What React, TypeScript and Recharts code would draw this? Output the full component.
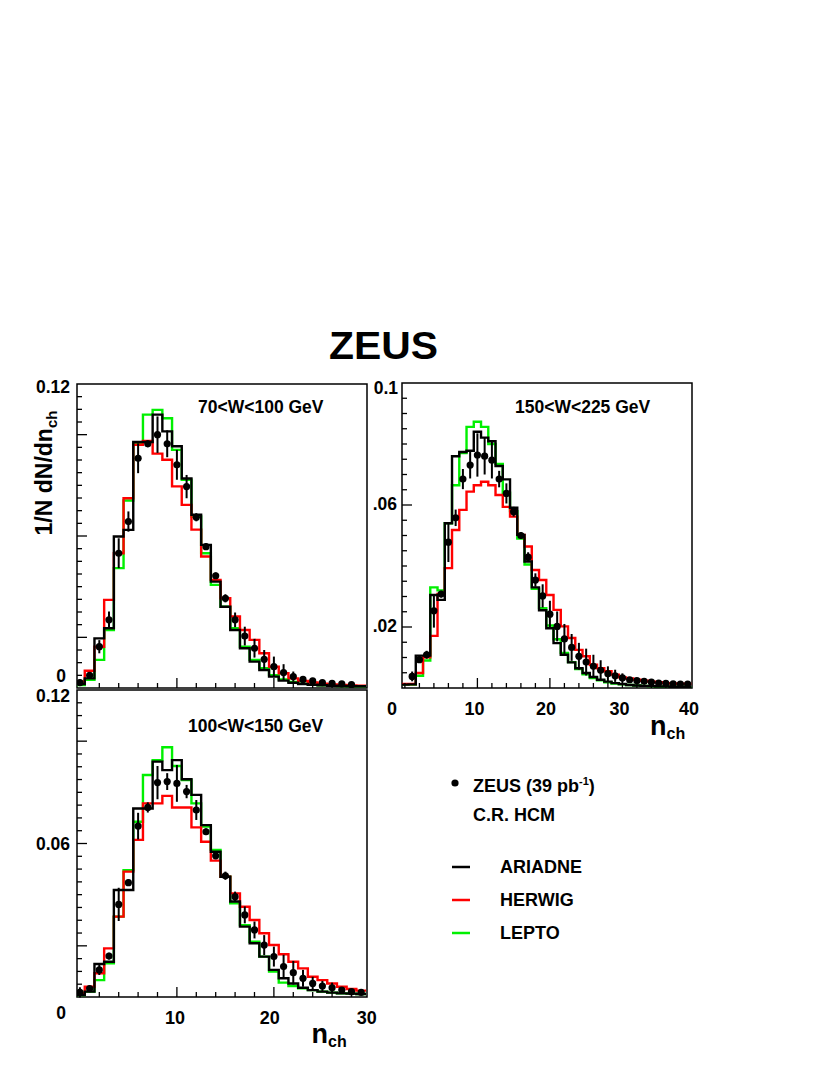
import React from "react";
import { ComposedChart, Line, Scatter, ErrorBar, XAxis, YAxis, ReferenceArea } from "recharts";

const FONT = "'Liberation Sans', Arial, Helvetica, sans-serif";

// charged multiplicity bins
const nch30 = [0, 1, 2, 3, 4, 5, 6, 7, 8, 9, 10, 11, 12, 13, 14, 15, 16, 17, 18, 19, 20, 21, 22, 23, 24, 25, 26, 27, 28, 29];
const nch40 = [0, 1, 2, 3, 4, 5, 6, 7, 8, 9, 10, 11, 12, 13, 14, 15, 16, 17, 18, 19, 20, 21, 22, 23, 24, 25, 26, 27, 28, 29, 30, 31, 32, 33, 34, 35, 36, 37, 38, 39];

// 70 < W < 100 GeV  (data: n = 0..28)
const zeus70 = [0.0021, 0.005, 0.0163, 0.0269, 0.0532, 0.0657, 0.0907, 0.0964, 0.1, 0.0964, 0.0881, 0.0795, 0.0674, 0.0558, 0.0443, 0.0354, 0.0269, 0.0205, 0.0157, 0.0113, 0.0084, 0.0061, 0.0045, 0.0034, 0.0028, 0.0021, 0.0018, 0.0016, 0.0013];
const zeus70Err = [0.0013, 0.0007, 0.0026, 0.0033, 0.0059, 0.004, 0.0059, 0.0013, 0.0072, 0.0053, 0.0059, 0.0046, 0.0016, 0.0013, 0.0013, 0.0016, 0.0029, 0.0037, 0.0037, 0.0037, 0.004, 0.0033, 0.002, 0.0013, 0.0008, 0.0008, 0.0008, 0.0008, 0.0008];
const ariadne70 = [0.0016, 0.0038, 0.0196, 0.0236, 0.0598, 0.0624, 0.0971, 0.0971, 0.1079, 0.1013, 0.0954, 0.0827, 0.0684, 0.0565, 0.042, 0.0321, 0.0229, 0.0157, 0.0104, 0.0071, 0.0045, 0.0029, 0.0021, 0.0016, 0.0013, 0.0011, 0.0009, 0.0008, 0.0007, 0.0007];
const herwig70 = [0.0025, 0.0068, 0.0163, 0.0348, 0.0532, 0.0749, 0.096, 0.0975, 0.0925, 0.0901, 0.0796, 0.0723, 0.0625, 0.0519, 0.0427, 0.0354, 0.0282, 0.0229, 0.019, 0.0137, 0.0084, 0.0058, 0.0038, 0.0028, 0.0022, 0.0017, 0.0014, 0.0012, 0.001, 0.0009];
const lepto70 = [0.0012, 0.0032, 0.0111, 0.0229, 0.0473, 0.074, 0.0967, 0.1079, 0.1098, 0.1065, 0.094, 0.0822, 0.0677, 0.0532, 0.0407, 0.0321, 0.0236, 0.0163, 0.0111, 0.0078, 0.0051, 0.0034, 0.0024, 0.0017, 0.0013, 0.0011, 0.0009, 0.0008, 0.0007, 0.0007];

// 150 < W < 225 GeV  (data: n = 1..39)
const zeus150 = [0.0038, 0.0093, 0.0109, 0.0253, 0.0308, 0.0478, 0.0558, 0.0685, 0.0731, 0.0764, 0.076, 0.0747, 0.0685, 0.0638, 0.0578, 0.05, 0.0429, 0.0354, 0.0302, 0.0242, 0.0202, 0.0161, 0.0133, 0.0104, 0.0085, 0.0071, 0.0058, 0.0047, 0.004, 0.0033, 0.0027, 0.0024, 0.0022, 0.0019, 0.0016, 0.0015, 0.0014, 0.0013, 0.0013];
const zeus150Err = [0.0016, 0.0011, 0.0013, 0.0055, 0.0011, 0.0065, 0.0027, 0.0033, 0.0044, 0.0071, 0.006, 0.006, 0.0027, 0.0033, 0.0016, 0.0011, 0.0016, 0.0022, 0.0038, 0.0044, 0.0049, 0.0049, 0.0044, 0.0044, 0.0044, 0.0038, 0.0033, 0.0024, 0.002, 0.0015, 0.0009, 0.0009, 0.0009, 0.0009, 0.0009, 0.0009, 0.0009, 0.0009, 0.0009];
const ariadne150 = [0.0011, 0.0012, 0.0106, 0.0106, 0.0305, 0.0289, 0.054, 0.076, 0.0774, 0.0778, 0.084, 0.0821, 0.0809, 0.0728, 0.0684, 0.0591, 0.0502, 0.0415, 0.033, 0.0255, 0.0196, 0.0147, 0.0109, 0.0084, 0.0065, 0.0049, 0.0036, 0.0027, 0.0021, 0.0016, 0.0013, 0.001, 0.0008, 0.0007, 0.0006, 0.0005, 0.0005, 0.0004, 0.0004, 0.0003];
const herwig150 = [0.0013, 0.0013, 0.0049, 0.0101, 0.0171, 0.0308, 0.0393, 0.0518, 0.0584, 0.0644, 0.0665, 0.0676, 0.0665, 0.0633, 0.0594, 0.0562, 0.0502, 0.0464, 0.0387, 0.0354, 0.0305, 0.0256, 0.0202, 0.0164, 0.0125, 0.0104, 0.0076, 0.0065, 0.0055, 0.0044, 0.0035, 0.0031, 0.0027, 0.0024, 0.0021, 0.0019, 0.0016, 0.0015, 0.0014, 0.0014];
const lepto150 = [0.0011, 0.0011, 0.004, 0.009, 0.033, 0.032, 0.054, 0.0665, 0.077, 0.0856, 0.0873, 0.0856, 0.08, 0.0735, 0.064, 0.058, 0.049, 0.0405, 0.0325, 0.0262, 0.0205, 0.016, 0.0115, 0.0085, 0.0062, 0.0045, 0.0033, 0.0025, 0.0019, 0.0015, 0.0012, 0.001, 0.0008, 0.0007, 0.0006, 0.0005, 0.0005, 0.0004, 0.0004, 0.0003];

// 100 < W < 150 GeV  (data: n = 0..29)
const zeus100 = [0.0018, 0.0033, 0.0106, 0.016, 0.0362, 0.0447, 0.0668, 0.0741, 0.0838, 0.0842, 0.0835, 0.0803, 0.0731, 0.0646, 0.0552, 0.0474, 0.0392, 0.0321, 0.0262, 0.0203, 0.0158, 0.0119, 0.0095, 0.0073, 0.0053, 0.0043, 0.0036, 0.0027, 0.0021, 0.0018];
const zeus100Err = [0.002, 0.0007, 0.002, 0.0013, 0.0065, 0.0013, 0.0052, 0.002, 0.0065, 0.0033, 0.0072, 0.0026, 0.0039, 0.0013, 0.0013, 0.0016, 0.002, 0.0033, 0.0033, 0.0039, 0.0039, 0.0046, 0.0046, 0.0033, 0.0026, 0.002, 0.002, 0.001, 0.0008, 0.0008];
const ariadne100 = [0.0008, 0.0021, 0.0129, 0.0138, 0.0418, 0.0418, 0.0737, 0.0737, 0.092, 0.0887, 0.0926, 0.0851, 0.079, 0.0672, 0.0568, 0.047, 0.0373, 0.0275, 0.021, 0.0158, 0.0106, 0.0073, 0.0053, 0.0036, 0.0027, 0.0021, 0.0017, 0.0014, 0.0013, 0.0012];
const herwig100 = [0.0014, 0.004, 0.0093, 0.019, 0.0314, 0.049, 0.0614, 0.0757, 0.0757, 0.0786, 0.0741, 0.0741, 0.0663, 0.0607, 0.0533, 0.047, 0.0405, 0.0353, 0.0301, 0.0249, 0.0203, 0.0167, 0.0138, 0.0112, 0.0079, 0.0066, 0.0053, 0.004, 0.0031, 0.0025];
const lepto100 = [0.0008, 0.0021, 0.0066, 0.0132, 0.0314, 0.0496, 0.0685, 0.0868, 0.0926, 0.0976, 0.0903, 0.0848, 0.0757, 0.0666, 0.0575, 0.047, 0.0366, 0.0281, 0.0216, 0.0158, 0.0099, 0.0056, 0.0043, 0.0034, 0.0027, 0.0021, 0.0017, 0.0014, 0.0013, 0.0012];

type Lab = { v: number; text: string; dx?: number; dy?: number };

// histogram outline: one row per lower bin edge plus the closing edge
function histRows(bins: number[], a: number[], h: number[], l: number[]) {
  const rows = bins.map((n, i) => ({ x: n - 0.5, ariadne: a[i], herwig: h[i], lepto: l[i] }));
  const last = bins.length - 1;
  rows.push({ x: bins[last] + 0.5, ariadne: a[last], herwig: h[last], lepto: l[last] });
  return rows;
}

function points(bins: number[], v: number[], e: number[]) {
  return v.map((y, i) => ({ x: bins[i], y, e: e[i] }));
}

function steps(from: number, to: number, step: number) {
  const out: number[] = [];
  for (let k = Math.round(from / step); k * step <= to + 1e-9; k++) out.push(+(k * step).toFixed(4));
  return out;
}

const near = (a: number, b: number) => Math.abs(a - b) < 1e-6;

function Panel(p: {
  fx: number; fy: number; fw: number; fh: number;
  xDomain: [number, number]; yMax: number;
  xMinor: number[]; xMajor: number[]; xLabels: Lab[];
  yMinor: number[]; yMajor: number[]; yLabels: Lab[];
  rows: any[]; pts: any[];
}) {
  const xTicks = Array.from(new Set([...p.xMinor, ...p.xLabels.map((l) => l.v)])).sort((a, b) => a - b);
  const yTicks = Array.from(new Set([...p.yMinor, ...p.yLabels.map((l) => l.v)])).sort((a, b) => a - b);

  const xTick = (t: any) => {
    const v = t.payload.value;
    const major = p.xMajor.some((m) => near(m, v));
    const minor = p.xMinor.some((m) => near(m, v));
    const lab = p.xLabels.find((l) => near(l.v, v));
    return (
      <g>
        {minor && <line x1={t.x} x2={t.x} y1={t.y} y2={t.y - (major ? 10 : 5)} stroke="#000" strokeWidth={1.3} />}
        {lab && (
          <text x={t.x + (lab.dx || 0)} y={t.y + 27 + (lab.dy || 0)} textAnchor="middle" fontFamily={FONT} fontWeight="bold" fontSize={18} fill="#000">
            {lab.text}
          </text>
        )}
      </g>
    );
  };

  const yTick = (t: any) => {
    const v = t.payload.value;
    const major = p.yMajor.some((m) => near(m, v));
    const minor = p.yMinor.some((m) => near(m, v));
    const lab = p.yLabels.find((l) => near(l.v, v));
    return (
      <g>
        {minor && <line x1={t.x} x2={t.x + (major ? 10 : 5)} y1={t.y} y2={t.y} stroke="#000" strokeWidth={1.3} />}
        {lab && (
          <text x={t.x - 7 + (lab.dx || 0)} y={t.y + 6.5 + (lab.dy || 0)} textAnchor="end" fontFamily={FONT} fontWeight="bold" fontSize={17.5} fill="#000">
            {lab.text}
          </text>
        )}
      </g>
    );
  };

  return (
    <div style={{ position: "absolute", left: p.fx - 70, top: p.fy - 10 }}>
      <ComposedChart width={p.fw + 80} height={p.fh + 70} data={p.rows} margin={{ top: 10, right: 10, bottom: 0, left: 0 }}>
        <XAxis dataKey="x" type="number" domain={p.xDomain} allowDataOverflow ticks={xTicks} interval={0} tick={xTick} tickLine={false} axisLine={false} tickSize={0} tickMargin={0} height={60} />
        <YAxis type="number" domain={[0, p.yMax]} allowDataOverflow ticks={yTicks} interval={0} tick={yTick} tickLine={false} axisLine={false} tickSize={0} tickMargin={0} width={70} />
        <ReferenceArea x1={p.xDomain[0]} x2={p.xDomain[1]} y1={0} y2={p.yMax} fill="none" stroke="#000" strokeWidth={1.5} ifOverflow="visible" />
        <Line dataKey="lepto" type="stepAfter" stroke="#00f000" strokeWidth={2.4} dot={false} isAnimationActive={false} />
        <Line dataKey="herwig" type="stepAfter" stroke="#ff0000" strokeWidth={2.4} dot={false} isAnimationActive={false} />
        <Line dataKey="ariadne" type="stepAfter" stroke="#000000" strokeWidth={2.4} dot={false} isAnimationActive={false} />
        <Scatter data={p.pts} dataKey="y" isAnimationActive={false} shape={(s: any) => <circle cx={s.cx} cy={s.cy} r={3.6} fill="#000" />}>
          <ErrorBar dataKey="e" direction="y" width={0} stroke="#000" strokeWidth={2} />
        </Scatter>
      </ComposedChart>
    </div>
  );
}

const yMinor12 = steps(0.005, 0.115, 0.005);
const yMinor10 = steps(0.005, 0.095, 0.005);
const yMajor = [0.02, 0.06, 0.1];
const xMinor30 = steps(2, 28, 2);
const xMinor40 = steps(0, 38, 2);
const xMajor = [10, 20, 30];

export default function App() {
  const bold = { fontFamily: FONT, fontWeight: "bold" as const, fill: "#000" };
  return (
    <div style={{ position: "absolute", left: 0, top: 0, width: 830, height: 1075, background: "#fff" }}>
      <Panel
        fx={77} fy={384} fw={290} fh={304}
        xDomain={[-0.3, 29.6]} yMax={0.12}
        xMinor={xMinor30} xMajor={xMajor} xLabels={[]}
        yMinor={yMinor12} yMajor={yMajor}
        yLabels={[{ v: 0.12, text: "0.12", dy: 2 }, { v: 0, text: "0", dx: -4, dy: -13 }]}
        rows={histRows(nch30, ariadne70, herwig70, lepto70)}
        pts={points(nch30, zeus70, zeus70Err)}
      />
      <Panel
        fx={77} fy={690} fw={290} fh={307}
        xDomain={[-0.3, 29.6]} yMax={0.12}
        xMinor={xMinor30} xMajor={xMajor}
        xLabels={[{ v: 10, text: "10", dx: -2 }, { v: 20, text: "20", dx: -4 }, { v: 30, text: "30", dx: -4 }]}
        yMinor={yMinor12} yMajor={yMajor}
        yLabels={[{ v: 0.12, text: "0.12", dy: 5 }, { v: 0.06, text: "0.06", dy: -0.5 }, { v: 0, text: "0", dx: -4, dy: 15.5 }]}
        rows={histRows(nch30, ariadne100, herwig100, lepto100)}
        pts={points(nch30, zeus100, zeus100Err)}
      />
      <Panel
        fx={402} fy={383} fw={290} fh={305}
        xDomain={[-0.4, 39.6]} yMax={0.1}
        xMinor={xMinor40} xMajor={xMajor}
        xLabels={[{ v: 0, text: "0", dx: -13 }, { v: 10, text: "10", dx: -3 }, { v: 20, text: "20", dx: -4 }, { v: 30, text: "30", dx: -3 }, { v: 40, text: "40", dx: -6 }]}
        yMinor={yMinor10} yMajor={yMajor}
        yLabels={[{ v: 0.1, text: "0.1", dx: 3, dy: 4 }, { v: 0.06, text: ".06", dx: 2, dy: -1.7 }, { v: 0.02, text: ".02", dx: 2, dy: -2 }]}
        rows={histRows(nch40, ariadne150, herwig150, lepto150)}
        pts={points(nch40.slice(1), zeus150, zeus150Err)}
      />

      <svg width={830} height={1075} style={{ position: "absolute", left: 0, top: 0, pointerEvents: "none" }}>
        <text x={383.5} y={359} textAnchor="middle" fontSize={38} textLength={109} lengthAdjust="spacingAndGlyphs" {...bold}>ZEUS</text>

        <text transform="translate(52,473) rotate(-90)" textAnchor="middle" fontSize={23} {...bold}>
          1/N dN/dn<tspan fontSize={15} dy={5}>ch</tspan>
        </text>

        <text x={198} y={413} fontSize={17.5} {...bold}>70&lt;W&lt;100 GeV</text>
        <text x={515} y={413} fontSize={17.5} {...bold}>150&lt;W&lt;225 GeV</text>
        <text x={188} y={731.5} fontSize={17.5} {...bold}>100&lt;W&lt;150 GeV</text>

        <text x={650} y={735} fontSize={27} {...bold}>n<tspan fontSize={16} dy={4}>ch</tspan></text>
        <text x={311.5} y={1043} fontSize={27} {...bold}>n<tspan fontSize={16} dy={4}>ch</tspan></text>

        <circle cx={455} cy={783} r={3.6} fill="#000" />
        <text x={473} y={792} fontSize={18} {...bold}>
          ZEUS (39 pb<tspan fontSize={11} dy={-7}>-1</tspan><tspan dy={7}>)</tspan>
        </text>
        <text x={473} y={821} fontSize={18} {...bold}>C.R. HCM</text>

        <line x1={452} x2={470} y1={867} y2={867} stroke="#000" strokeWidth={2.5} />
        <text x={500} y={873} fontSize={18} {...bold}>ARIADNE</text>
        <line x1={452} x2={470} y1={900} y2={900} stroke="#ff0000" strokeWidth={2.5} />
        <text x={500} y={906} fontSize={18} {...bold}>HERWIG</text>
        <line x1={452} x2={470} y1={933} y2={933} stroke="#00f000" strokeWidth={2.5} />
        <text x={500} y={939} fontSize={18} {...bold}>LEPTO</text>
      </svg>
    </div>
  );
}
